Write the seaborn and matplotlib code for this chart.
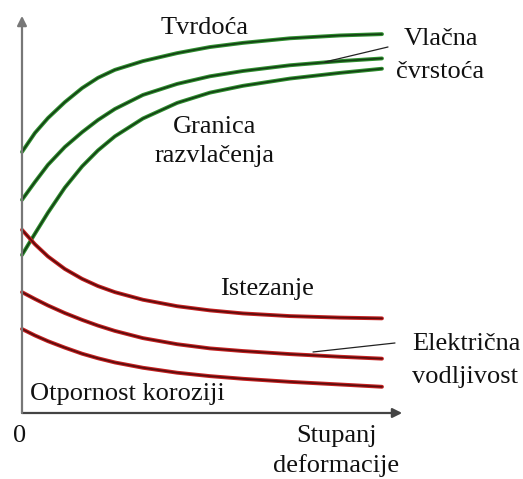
import numpy as np
import matplotlib
matplotlib.use("Agg")
import matplotlib.pyplot as plt
import seaborn as sns

sns.set_style("white")
plt.rcParams['font.family'] = ['Liberation Serif', 'DejaVu Serif']

# degree of deformation (arbitrary units, 0..10)
deformacija = [0, 0.36, 0.72, 1.19, 1.67, 2.11, 2.58, 3.36, 4.31, 5.22, 6.14, 7.44, 8.83, 10.0]

# green curves (rise with deformation)
tvrdoca = [68.7, 73.7, 77.6, 81.8, 85.5, 88.2, 90.3, 92.6, 94.7, 96.3, 97.4, 98.6, 99.35, 99.7]
vlacna_cvrstoca = [56.1, 60.8, 65.3, 70.0, 73.9, 77.1, 80.0, 83.7, 86.6, 88.6, 90.0, 91.5, 92.6, 93.3]
granica_razvlacenja = [41.6, 47.2, 52.7, 59.3, 64.9, 69.1, 72.8, 77.5, 81.6, 84.3, 86.1, 88.0, 89.5, 90.6]

# red curves (fall with deformation)
istezanje = [48.2, 44.4, 41.2, 37.9, 35.3, 33.4, 31.8, 29.8, 28.1, 27.0, 26.2, 25.5, 25.1, 24.9]
elektricna_vodljivost = [31.8, 30.0, 28.3, 26.3, 24.5, 23.0, 21.6, 19.7, 18.1, 17.0, 16.3, 15.5, 14.8, 14.3]
otpornost_koroziji = [22.1, 20.4, 18.9, 17.2, 15.6, 14.4, 13.3, 11.9, 10.6, 9.7, 9.0, 8.2, 7.5, 6.9]

fig = plt.figure(figsize=(5.23, 4.79), dpi=100)
ax = fig.add_axes([0, 0, 1, 1])
ax.set_xlim(-0.611, 13.917)
ax.set_ylim(-17.37, 108.68)
ax.axis('off')

# axes with arrows
ax.annotate('', xy=(10.56, 0), xytext=(0, 0),
            arrowprops=dict(arrowstyle='-|>', color='#444444', lw=1.6,
                            mutation_scale=14, shrinkA=0, shrinkB=0))
ax.annotate('', xy=(0, 104.5), xytext=(0, 0),
            arrowprops=dict(arrowstyle='-|>', color='#777777', lw=1.6,
                            mutation_scale=14, shrinkA=0, shrinkB=0))

def curve(y, edge, core):
    sns.lineplot(x=deformacija, y=y, ax=ax, color=edge, lw=2.8,
                 sort=False, estimator=None, solid_capstyle='round',
                 solid_joinstyle='round')
    sns.lineplot(x=deformacija, y=y, ax=ax, color=core, lw=1.2,
                 sort=False, estimator=None, solid_capstyle='round',
                 solid_joinstyle='round')

for y in [tvrdoca, vlacna_cvrstoca, granica_razvlacenja]:
    curve(y, '#2f8f2f', '#143f14')
for y in [istezanje, elektricna_vodljivost, otpornost_koroziji]:
    curve(y, '#c42020', '#5a0c0c')

fs = 19
def lbl(px, py, s, ha='center'):
    ax.text((px - 22) / 36, (413 - py) / 3.8, s, fontsize=fs, ha=ha,
            va='baseline', color='#111111')

lbl(205, 34, 'Tvrdoća')
lbl(441, 45, 'Vlačna')
lbl(440, 78, 'čvrstoća')
lbl(215, 133, 'Granica')
lbl(215, 162, 'razvlačenja')
lbl(267, 295, 'Istezanje')
lbl(466, 350, 'Električna')
lbl(465, 383, 'vodljivost')
lbl(127, 400, 'Otpornost koroziji')
lbl(20, 442, '0')
lbl(337, 442, 'Stupanj')
lbl(336, 472, 'deformacije')

# leader lines
ax.plot([(388 - 22) / 36, (325 - 22) / 36], [(413 - 47) / 3.8, (413 - 62) / 3.8],
        color='#222222', lw=0.9)
ax.plot([(395 - 22) / 36, (313 - 22) / 36], [(413 - 343) / 3.8, (413 - 352) / 3.8],
        color='#222222', lw=0.9)

fig.savefig('out.png', dpi=100)
